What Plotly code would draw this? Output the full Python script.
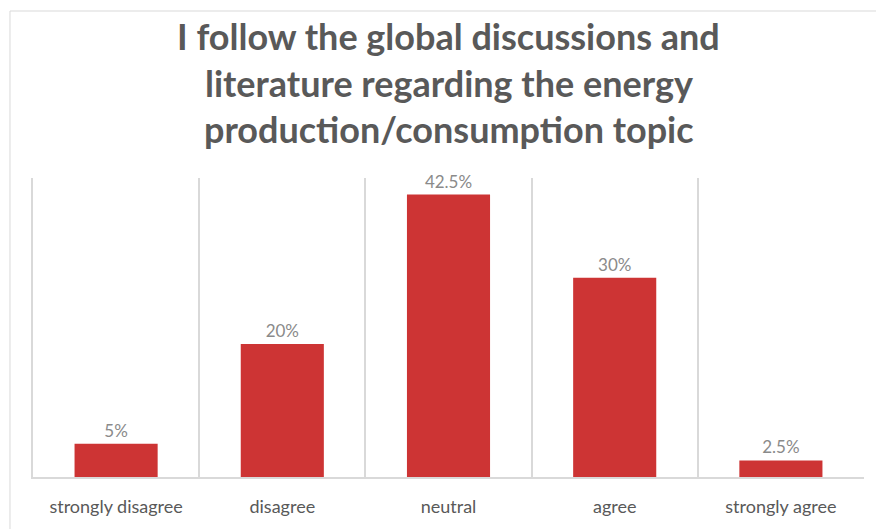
import plotly.graph_objects as go

# Survey responses
categories = ["strongly disagree", "disagree", "neutral", "agree", "strongly agree"]
shares = [5, 20, 42.5, 30, 2.5]
share_labels = ["5%", "20%", "42.5%", "30%", "2.5%"]

title_lines = [
    "I follow the global discussions and",
    "literature regarding the energy",
    "production/consumption topic",
]

BAR_RED = "#CD3434"
GRID = "#D9D9D9"
TEXT_DARK = "#595959"
TEXT_LIGHT = "#8A8A8A"
FONT = "Lato"

positions = list(range(len(categories)))
boundaries = [p - 0.5 for p in positions]

fig = go.Figure(
    go.Bar(
        x=positions,
        y=shares,
        width=0.5,
        marker=dict(color=BAR_RED, line=dict(width=0)),
        text=share_labels,
        textposition="outside",
        cliponaxis=False,
        textfont=dict(family=FONT, size=17, color=TEXT_LIGHT),
        hoverinfo="skip",
    )
)

# Three stacked title lines with the wider line spacing of the original layout
title_y = [1.475, 1.318, 1.164]
for line, yy in zip(title_lines, title_y):
    fig.add_annotation(
        text=f"<b>{line}</b>",
        xref="paper", yref="paper",
        x=0.5, y=yy,
        xanchor="center", yanchor="middle",
        showarrow=False,
        font=dict(family=FONT, size=36, color=TEXT_DARK),
    )

# Light frame around the chart area
fig.add_shape(
    type="rect", xref="paper", yref="paper",
    x0=-0.0277, x1=1.2, y0=-0.5, y1=1.5585,
    line=dict(color=GRID, width=1),
    fillcolor="rgba(0,0,0,0)",
    layer="below",
)

fig.update_layout(
    width=876,
    height=529,
    margin=dict(l=33, r=12, t=178, b=52),
    paper_bgcolor="white",
    plot_bgcolor="white",
    showlegend=False,
    bargap=0.5,
    xaxis=dict(
        range=[-0.5, 4.5],
        tickmode="array",
        tickvals=positions,
        ticktext=categories,
        showgrid=False,
        zeroline=False,
        showline=True,
        linecolor=GRID,
        linewidth=1.5,
        ticks="",
        ticklabelstandoff=13,
        tickfont=dict(family=FONT, size=18, color=TEXT_DARK),
        minor=dict(
            tickmode="array",
            tickvals=boundaries,
            showgrid=True,
            gridcolor=GRID,
            gridwidth=1.5,
            ticks="",
        ),
        fixedrange=True,
    ),
    yaxis=dict(
        range=[0, 45],
        showgrid=False,
        zeroline=False,
        showticklabels=False,
        showline=True,
        linecolor=GRID,
        linewidth=1.5,
        ticks="",
        fixedrange=True,
    ),
)

fig.write_html("out.html")
